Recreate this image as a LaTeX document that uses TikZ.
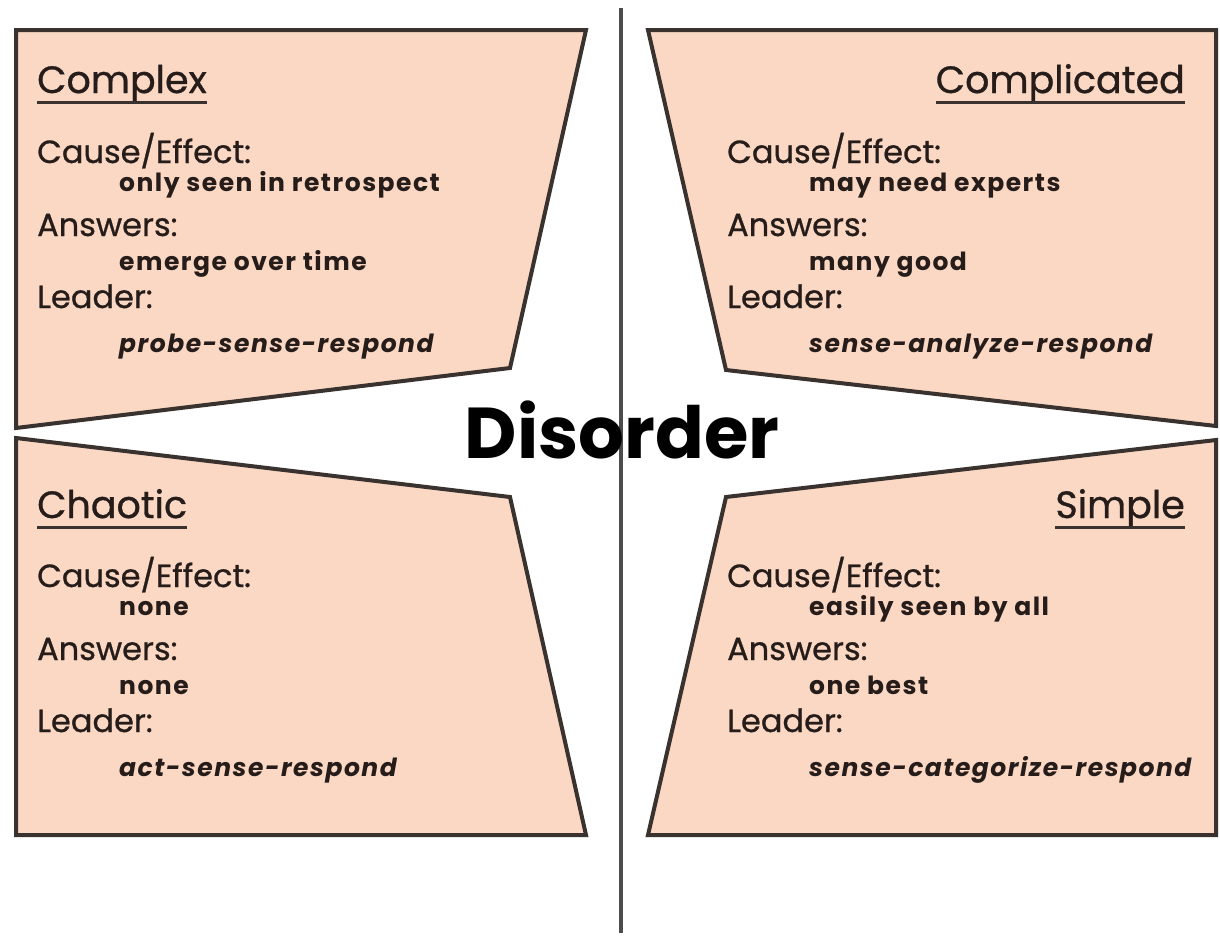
\documentclass[tikz,border=0pt]{standalone}
\usepackage{fontspec}
\setmainfont{Poppins}
\newfontfamily\headfont{Poppins}[FakeBold=0.8]
\usetikzlibrary{positioning}

\definecolor{peach}{RGB}{250,216,196}
\definecolor{edge}{RGB}{58,50,46}
\definecolor{ink}{RGB}{38,28,26}

\begin{document}
\begin{tikzpicture}[x=1pt, y=-1pt,
    every node/.style={inner sep=0pt, text=ink},
    quadrant/.style={fill=peach, draw=edge, line width=4pt},
    title/.style={font=\headfont\fontsize{38}{38}\selectfont, anchor=base west},
    rule/.style={draw=edge, line width=3pt},
    key/.style={font=\headfont\fontsize{32}{32}\selectfont, anchor=base west},
    val/.style={font=\fontsize{25}{25}\selectfont\bfseries\addfontfeature{LetterSpace=6},
      anchor=base west},
    how/.style={val, font=\fontsize{25}{25}\selectfont\bfseries\itshape\addfontfeature{LetterSpace=6}},
  ]
  \useasboundingbox (0, 0) rectangle (1220, 937);

  % quadrants
  \draw [quadrant] (16, 30) -- (586, 30) -- (510, 368) -- (16, 428) -- cycle;
  \draw [quadrant] (648, 30) -- (1216, 30) -- (1216, 426) -- (726, 370) -- cycle;
  \draw [quadrant] (16, 438) -- (510, 497) -- (586, 835) -- (16, 835) -- cycle;
  \draw [quadrant] (1216, 440) -- (1216, 835) -- (648, 835) -- (726, 497) -- cycle;

  % divider
  \coordinate (top) at (621, 8);
  \coordinate (bottom) at (621, 933);
  \draw [line width=4pt, draw=black!70] (top) -- (bottom);

  % titles
  \node [title] (cx-title) at (37, 93) {Complex};
  \node [title, anchor=base east] (cd-title) at (1185, 93) {Complicated};
  \node [title] (ch-title) at (37, 518) {Chaotic};
  \node [title, anchor=base east] (sp-title) at (1185, 518) {Simple};
  \foreach \q in {cx, cd, ch, sp} {
    \draw [rule] ([yshift=-9pt]\q-title.base west)
      -- ([yshift=-9pt]\q-title.base east);
  }

  % cause, answers, leader
  \foreach \q/\x/\y/\ce/\an/\ld in {
      cx/37/153/only seen in retrospect/emerge over time/probe-sense-respond,
      cd/727/153/may need experts/many good/sense-analyze-respond,
      ch/37/577/none/none/act-sense-respond,
      sp/727/577/easily seen by all/one best/sense-categorize-respond} {
    \node [key] (\q-ce) at (\x, \y + 10) {Cause/Effect:};
    \node [val] (\q-ce-val) at (\x + 82, \y + 38) {\ce};
    \node [key] (\q-an) at (\x, \y + 83) {Answers:};
    \node [val] (\q-an-val) at (\x + 82, \y + 117) {\an};
    \node [key] (\q-ld) at (\x, \y + 155) {Leader:};
    \node [how] (\q-ld-val) at (\x + 82, \y + 199) {\ld};
  }

  \node [font=\fontsize{72}{72}\selectfont\bfseries, anchor=base, text=black]
    (disorder) at (622, 458) {Disorder};
\end{tikzpicture}
\end{document}
